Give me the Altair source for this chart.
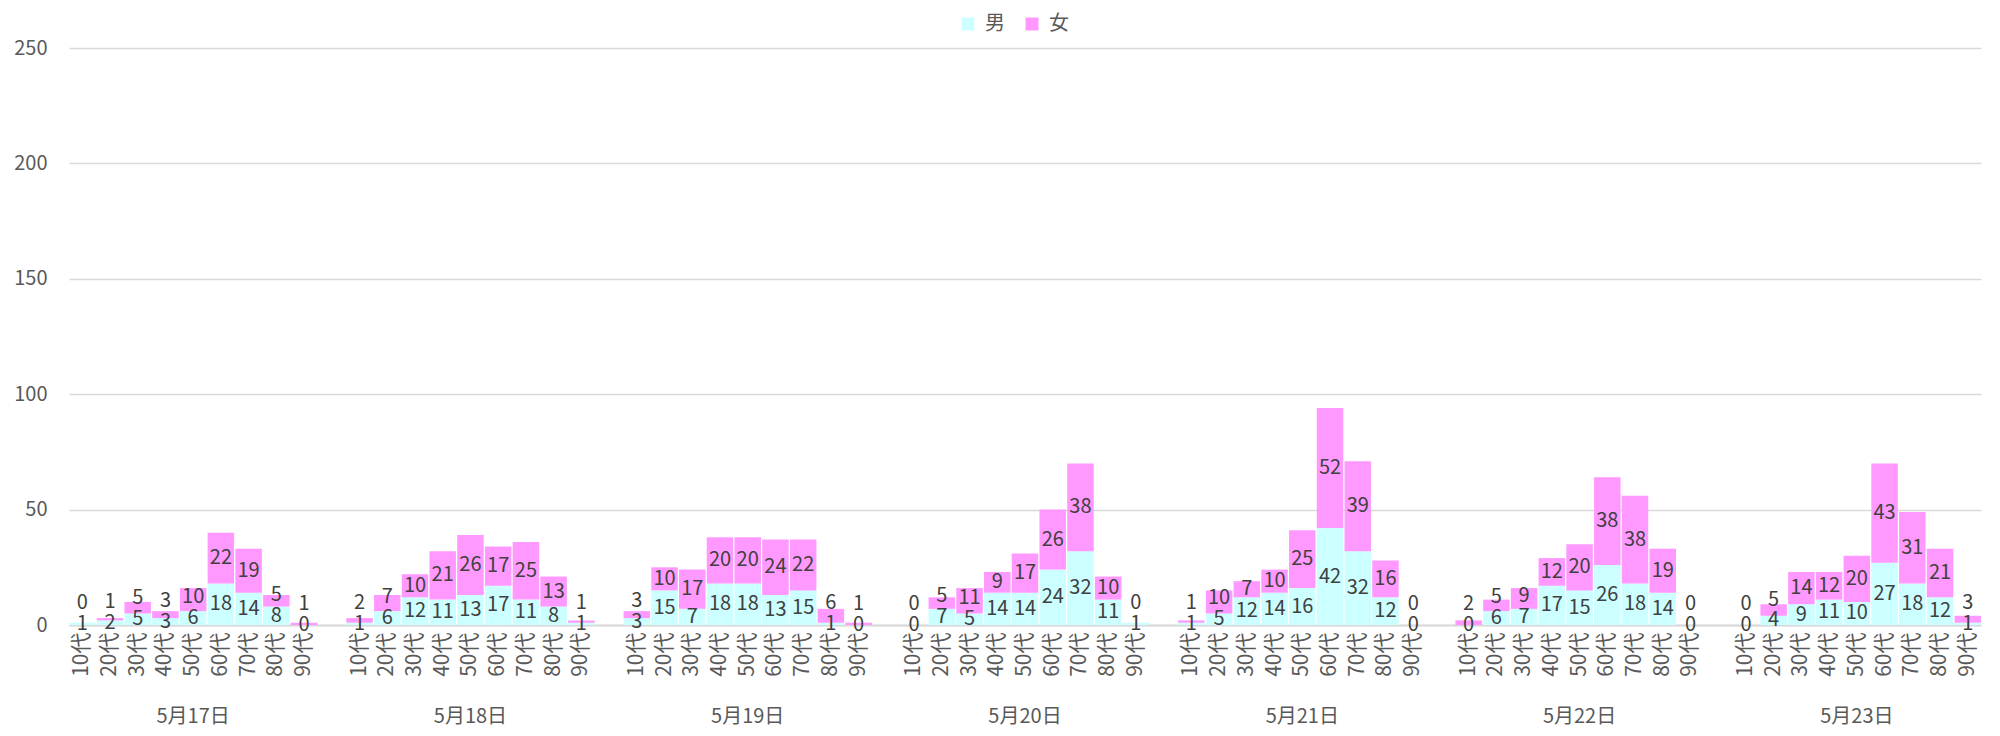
import altair as alt
import pandas as pd

dates = ["5月17日", "5月18日", "5月19日", "5月20日", "5月21日", "5月22日", "5月23日"]
ages = ["10代", "20代", "30代", "40代", "50代", "60代", "70代", "80代", "90代"]
male = [
    [1, 2, 5, 3, 6, 18, 14, 8, 0],
    [1, 6, 12, 11, 13, 17, 11, 8, 1],
    [3, 15, 7, 18, 18, 13, 15, 1, 0],
    [0, 7, 5, 14, 14, 24, 32, 11, 1],
    [1, 5, 12, 14, 16, 42, 32, 12, 0],
    [0, 6, 7, 17, 15, 26, 18, 14, 0],
    [0, 4, 9, 11, 10, 27, 18, 12, 1],
]
female = [
    [0, 1, 5, 3, 10, 22, 19, 5, 1],
    [2, 7, 10, 21, 26, 17, 25, 13, 1],
    [3, 10, 17, 20, 20, 24, 22, 6, 1],
    [0, 5, 11, 9, 17, 26, 38, 10, 0],
    [1, 10, 7, 10, 25, 52, 39, 16, 0],
    [2, 5, 9, 12, 20, 38, 38, 19, 0],
    [0, 5, 14, 12, 20, 43, 31, 21, 3],
]
sexes = ["男", "女"]
colors = ["#CCFFFF", "#FF99FF"]

domain = []
rows = []
labels = []
for i, d in enumerate(dates):
    for j, a in enumerate(ages):
        key = d + "_" + a
        domain.append(key)
        m = male[i][j]
        f = female[i][j]
        rows.append({"key": key, "sex": "男", "ord": 0, "v": m})
        rows.append({"key": key, "sex": "女", "ord": 1, "v": f})
        my = m / 2
        fy = max(m + f / 2, my + 9)
        labels.append({"key": key, "v": my, "t": str(m)})
        labels.append({"key": key, "v": fy, "t": str(f)})
    if i < len(dates) - 1:
        domain.append("gap" + str(i))

df = pd.DataFrame(rows)
ldf = pd.DataFrame(labels)
ddf = pd.DataFrame({"key": [d + "_" + ages[4] for d in dates], "t": dates})

FONT = "Noto Sans CJK JP"
W, H = 1912, 577

xscale = alt.Scale(domain=domain, paddingInner=0.045, paddingOuter=0)
yscale = alt.Scale(domain=[0, 250])

xaxis = alt.Axis(labelAngle=270, labelAlign="right", labelBaseline="middle",
                 labelExpr="indexof(datum.label, '_') >= 0 ? substring(datum.label, indexof(datum.label, '_') + 1) : ''",
                 labelFontSize=21, labelColor="#595959", labelPadding=7,
                 ticks=False, domainColor="#D9D9D9", domainWidth=2,
                 labelFont=FONT, grid=False)
yaxis = alt.Axis(values=[0, 50, 100, 150, 200, 250], grid=True, gridColor="#D9D9D9",
                 gridWidth=1.5, domain=False, ticks=False, labelPadding=22,
                 labelFontSize=20, labelColor="#595959", labelFont=FONT)

bars = alt.Chart(df).mark_bar().encode(
    x=alt.X("key:N", scale=xscale, sort=domain, title=None, axis=xaxis),
    y=alt.Y("v:Q", stack="zero", scale=yscale, title=None, axis=yaxis),
    color=alt.Color("sex:N", scale=alt.Scale(domain=sexes, range=colors),
                    legend=alt.Legend(title=None, orient="none", legendX=889, legendY=-34,
                                      direction="horizontal", symbolType="square",
                                      symbolSize=169, symbolStrokeWidth=0,
                                      labelFontSize=20, labelColor="#595959", labelFont=FONT,
                                      columnPadding=17, labelOffset=7, padding=0)),
    order=alt.Order("ord:Q"),
)

txt = alt.Chart(ldf).mark_text(fontSize=20, color="#404040", font=FONT, baseline="middle").encode(
    x=alt.X("key:N", scale=xscale, sort=domain, title=None, axis=xaxis),
    y=alt.Y("v:Q", scale=yscale, title=None, axis=yaxis),
    text="t:N",
)

dtxt = alt.Chart(ddf).mark_text(fontSize=20, color="#595959", font=FONT, baseline="middle").encode(
    x=alt.X("key:N", scale=xscale, sort=domain, title=None, axis=xaxis),
    y=alt.value(H + 92),
    text="t:N",
)

chart = alt.layer(bars, txt, dtxt).properties(
    width=W, height=H,
    autosize=alt.AutoSizeParams(type="none"),
    padding={"left": 61, "top": 40, "right": 11, "bottom": 103},
).configure(font=FONT).configure_view(stroke=None)

chart.save("out.html", embed_options={"renderer": "svg", "actions": False})
